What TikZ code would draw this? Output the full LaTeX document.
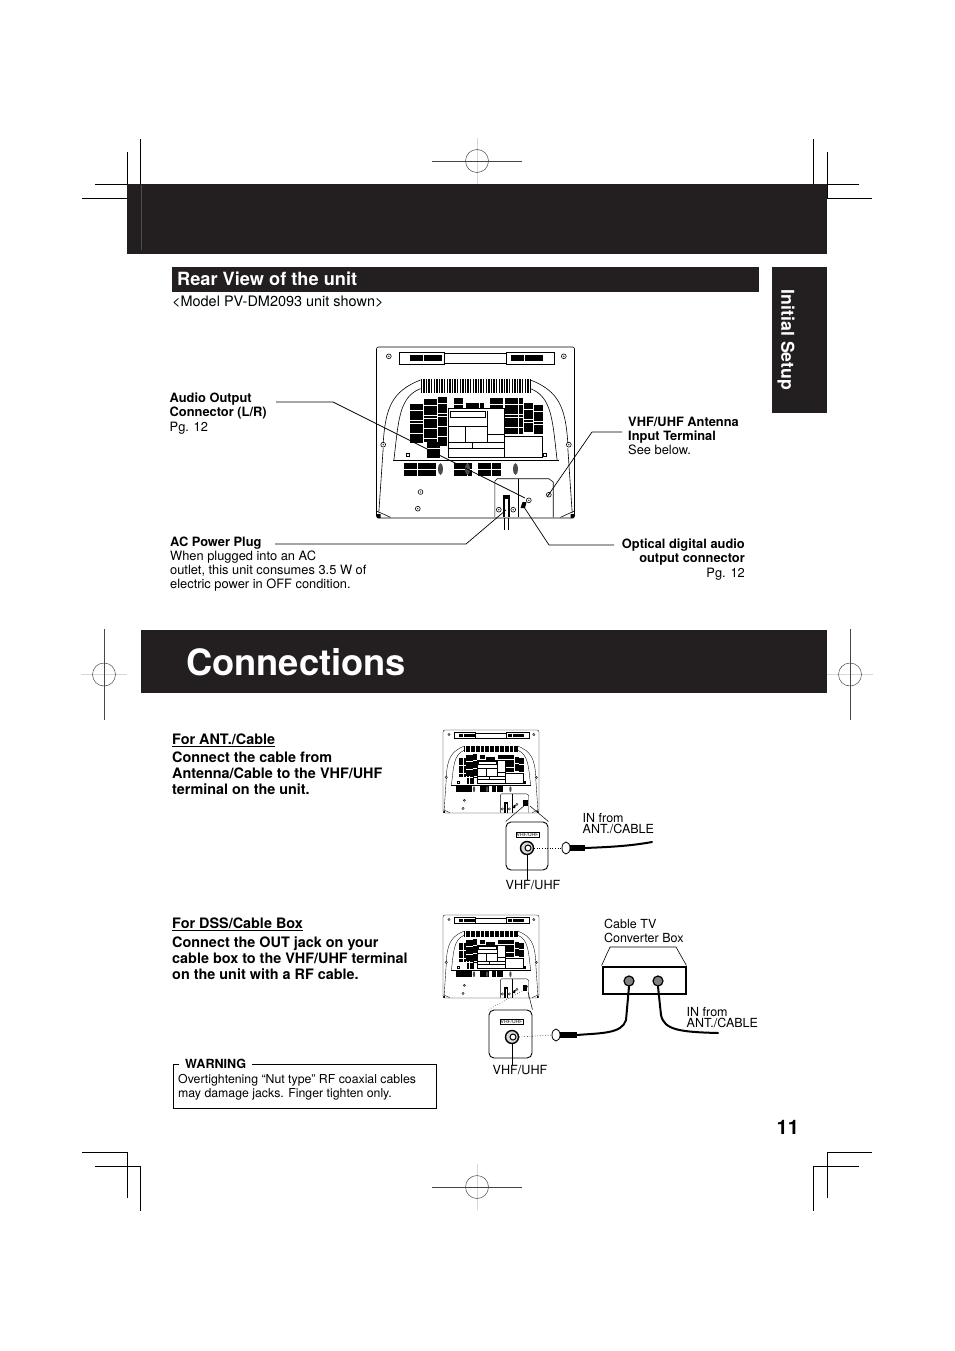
\documentclass[tikz,border=0pt]{standalone}
\usepackage{fontspec}
\setmainfont{TeX Gyre Heros}
\usetikzlibrary{positioning, calc, shapes.geometric}
\definecolor{bandblack}{RGB}{35, 31, 32}
\definecolor{regline}{RGB}{70, 70, 70}
\definecolor{regfaint}{RGB}{215, 215, 215}
\newcommand{\ventblock}[4]{%
    \foreach \ventc in {1,...,#3}
        \foreach \ventr in {1,...,#4}
            \fill ({#1+4.7*(\ventc-1)},{#2+3.3*(\ventr-1)}) rectangle ++(4.5,2.9);
}
\tikzset{
    rearline/.style={line width=0.6pt},
    cropline/.style={line width=0.9pt, black},
    leader/.style={line width=0.7pt, black},
    cable/.style={line width=2pt, black, line cap=round},
    bandtext/.style={white, font=\bfseries, inner sep=0pt},
    bodybold/.style={font=\fontsize{14.4}{16}\selectfont\bfseries, align=left, inner sep=0pt},
    smalllabel/.style={font=\fontsize{12.85}{14.2}\selectfont, inner sep=0pt},
    insetbox/.style={line width=0.9pt, rounded corners=5pt},
    jacklabel/.style={draw, line width=0.4pt, font=\fontsize{5}{5}\selectfont, inner sep=0.6pt, fill=white},
    pics/rearview/.style={code={
        % case
        \draw[rearline, rounded corners=2pt] (0,0) rectangle (198,171);
        \draw[rearline] (22.3,5) rectangle (67.3,17);
        \draw[rearline] (130,5) rectangle (177.3,17);
        \draw[rearline] (67.3,6) -- (130,6) (67.3,16) -- (130,16);
        \ventblock{33}{8}{7}{2}
        \ventblock{134}{8}{7}{2}
        % upper vents
        \foreach \ventx in {44,46.6,...,154}
            \fill (\ventx,32) rectangle ++(1.5,14);
        \draw[rearline] (6.7,96) .. controls (9,60) and (16,44) .. (44,33);
        \draw[rearline] (191.3,96) .. controls (189,60) and (182,44) .. (154,33);
        \draw[rearline] (17.3,113.7) .. controls (22,75) and (22,50) .. (44,41.7);
        \draw[rearline] (180.7,113.7) .. controls (176,75) and (176,50) .. (154,41.7);
        \draw[rearline] (6.7,101) -- (2.3,166);
        \draw[rearline] (191.3,101) -- (195.7,166);
        \draw[rearline] (16.7,113.7) -- (182,113.7);
        % vent blocks
        \ventblock{33}{57}{3}{12}
        \ventblock{47}{52}{3}{13}
        \ventblock{50}{95}{3}{5}
        \ventblock{61}{50}{2}{15}
        \ventblock{77}{51}{2}{3}
        \ventblock{89}{56}{4}{2}
        \ventblock{113}{51}{3}{3}
        \ventblock{128}{51}{4}{11}
        \ventblock{147.5}{56}{2}{9}
        \ventblock{157}{58}{2}{9}
        % middle panel
        \draw[rearline] (71.3,61.7) rectangle (127.3,110.3);
        \draw[rearline] (127.3,89.3) rectangle (165.7,110.3);
        \draw[rearline] (71.3,79.3) -- (110.7,79.3) (71.3,95) -- (127.3,95) (71.3,101) -- (127.3,101);
        \draw[rearline] (89,79.3) -- (89,95) (110.7,64) -- (110.7,95) (95.7,95) -- (95.7,101);
        \draw[line width=0.9pt] (110.7,87.7) -- (127.3,87.7);
        \draw[rearline] (73.3,64.3) rectangle (109,70.3);
        \draw[rearline] (30,106) rectangle ++(3,3.4) (167,106) rectangle ++(3,3.4);
        % jack row
        \ventblock{27}{116}{7}{4}
        \ventblock{77}{116}{4}{4}
        \ventblock{101}{116}{5}{4}
        \foreach \ventx in {64,91,139}
            \fill[black!70] (\ventx,122) ellipse (2.4 and 6);
        % lower panel
        \draw[rearline] (118.3,170.3) -- (118.3,134.3) -- (120.7,131.7) -- (172.3,131.7)
            -- (176.7,135) -- (176.7,170.3);
        \draw[rearline] (141.7,131.7) -- (141.7,170.3);
        \fill (126.7,148.3) rectangle (133.3,170.3);
        \fill[white] (128.9,152) rectangle (131.1,170.3);
        \draw[rearline] (0.7,164.3) -- (14,170.3) (197.3,164.3) -- (184,170.3);
        \fill (0.7,167) rectangle (4,171) (194,167) rectangle (197.3,171);
        \fill (146,155) -- (150,155) -- (148.5,161) -- (144,161) -- cycle;
        % screws
        \foreach \scx/\scy in {12.3/9.3, 187.3/9.3, 6.7/97.7, 192.3/97.7, 44/145, 41.3/161.7, 122.3/162.7, 136.7/162.7, 152.3/153.3, 172.3/147.7} {
            \draw[rearline] (\scx,\scy) circle (2.4);
            \fill (\scx,\scy) circle (0.7);
        }
    }}
}
\begin{document}
\begin{tikzpicture}[x=1pt, y=-1pt]
    \useasboundingbox (0,0) rectangle (954,1351);

    % crop marks
    \draw[cropline] (95,184) -- (140.5,184) -- (140.5,139);
    \draw[cropline] (82,198) -- (127,198) -- (127,152);
    \draw[cropline] (859,184) -- (813,184) -- (813,139);
    \draw[cropline] (872,198) -- (827,198) -- (827,152);
    \draw[cropline] (82,1152) -- (127,1152) -- (127,1198);
    \draw[cropline] (95,1166) -- (140.5,1166) -- (140.5,1211);
    \draw[cropline] (872,1152) -- (827,1152) -- (827,1198);
    \draw[cropline] (859,1166) -- (813,1166) -- (813,1211);

    % register marks
    \foreach \regx/\regy in {477/161, 477/1187} {
        \draw[regfaint, line width=1pt] (\regx,\regy-23) -- (\regx,\regy+23);
        \draw[regline, line width=0.6pt] (\regx-45,\regy) -- (\regx+45,\regy);
        \draw[regline, line width=0.5pt] (\regx,\regy) circle (11.5);
    }
    \foreach \regx/\regy in {104/674.5, 850/674.5} {
        \draw[regfaint, line width=1pt] (\regx-23,\regy) -- (\regx+23,\regy);
        \draw[regline, line width=0.6pt] (\regx,\regy-45.5) -- (\regx,\regy+45.5);
        \draw[regline, line width=0.5pt] (\regx,\regy) circle (11.5);
    }

    % bands
    \fill[bandblack] (127,184) rectangle (827,254);
    \draw[black!70, line width=0.5pt] (141,185) -- (141,250);
    \fill[bandblack] (172,267) rectangle (759,292);
    \fill[bandblack] (772,267) rectangle (827,413);
    \fill[bandblack] (141,630) rectangle (827,693);

    \node[bandtext, anchor=base west, font=\fontsize{18.2}{20}\selectfont\bfseries] (reartitle) at (177,285) {Rear View of the unit};
    \node[bandtext, anchor=center, rotate=-90, font=\fontsize{17.7}{20}\selectfont\bfseries] (sidetab) at (786,340) {Initial Setup};
    \node[bandtext, anchor=base west, font=\fontsize{36.3}{40}\selectfont\bfseries] (conntitle) at (186,675) {Connections};
    \node[anchor=base west, inner sep=0pt, font=\fontsize{14.45}{16}\selectfont] (model) at (172,306) {<Model PV-DM2093 unit shown>};
    \node[anchor=base west, inner sep=0pt, font=\fontsize{20}{22}\selectfont\bfseries] (pagenum) at (776.5,1134) {11};

    % rear view
    \pic at (376.5,347) {rearview};
    \draw[line width=0.6pt] (504,518) -- (504,530) (508.3,518) -- (508.3,530);

    \node[smalllabel, anchor=north west, align=left] (audio) at (169.5,393) {\textbf{Audio Output}\\\textbf{Connector (L/R)}\\Pg. 12};
    \node[smalllabel, anchor=north west, align=left] (antenna) at (628,417) {\textbf{VHF/UHF Antenna}\\\textbf{Input Terminal}\\See below.};
    \node[smalllabel, anchor=north west, align=left, font=\fontsize{12.85}{13.8}\selectfont] (acplug) at (170,537) {\textbf{AC Power Plug}\\When plugged into an AC\\outlet, this unit consumes 3.5 W of\\electric power in OFF condition.};
    \node[smalllabel, anchor=north east, align=right] (optical) at (745,539) {\textbf{Optical digital audio}\\\textbf{output connector}\\Pg. 12};

    \coordinate (audiostart) at (276,402);
    \coordinate (audiobend) at (333,402);
    \coordinate (audiotip) at (525,498);
    \coordinate (antstart) at (622,432);
    \coordinate (antbend) at (592,432);
    \coordinate (anttip) at (547,497);
    \coordinate (acstart) at (275,544);
    \coordinate (acbend) at (466,544);
    \coordinate (actip) at (506,510);
    \coordinate (optstart) at (614,545);
    \coordinate (optbend) at (549,545);
    \coordinate (opttip) at (522,504);
    \draw[leader] (audiostart) -- (audiobend) -- (audiotip);
    \draw[leader] (antstart) -- (antbend) -- (anttip);
    \draw[leader] (acstart) -- (acbend) -- (actip);
    \draw[leader] (optstart) -- (optbend) -- (opttip);

    % for ant./cable
    \node[bodybold, anchor=north west] (anthead) at (172,734) {\underline{For ANT./Cable}};
    \node[bodybold, anchor=north west] (antbody) at (172,752) {Connect the cable from\\Antenna/Cable to the VHF/UHF\\terminal on the unit.};
    \pic[transform shape, scale=0.485, rearline/.style={line width=0.35pt}] at (443,730) {rearview};
    \fill (523,800) rectangle (527.5,806);
    \coordinate (termone) at (525,805);
    \coordinate (termtwo) at (530,806);
    \node[draw, insetbox, minimum width=42pt, minimum height=48pt, inner sep=0pt] (insetone) at (527,846) {};
    \draw[line width=0.5pt] (termone) -- (insetone.north west);
    \draw[line width=0.5pt] (termtwo) -- (insetone.north east);
    \node[jacklabel] (labelone) at (527.5,834.5) {VHF/UHF};
    \node[circle, draw, line width=1.4pt, fill=black!15, minimum size=13pt, inner sep=0pt] (jackone) at (527,848) {};
    \node[circle, draw, line width=1pt, fill=white, minimum size=6pt, inner sep=0pt] (jackonein) at (528,848) {};
    \node[smalllabel, anchor=north, font=\fontsize{12.6}{14}\selectfont] (vhfone) at (533,880) {VHF/UHF};
    \draw[line width=0.7pt] (jackone.south) -- (vhfone.north -| jackone);
    \node[smalllabel, anchor=north west, font=\fontsize{12.5}{11}\selectfont, align=left] (inone) at (582.5,813) {IN from\\ANT./CABLE};
    \node[ellipse, draw, line width=0.8pt, minimum width=8pt, minimum height=12pt, inner sep=0pt] (plugone) at (566,848) {};
    \draw[line width=0.6pt, dotted] (jackone.east) -- (plugone.west);
    \fill (570,845) rectangle (585,851);
    \draw[cable] (585,848) .. controls (610,847) and (630,846) .. (652,842);

    % for dss/cable box
    \node[bodybold, anchor=north west] (dsshead) at (172,918) {\underline{For DSS/Cable Box}};
    \node[bodybold, anchor=north west] (dssbody) at (172,937) {Connect the OUT jack on your\\cable box to the VHF/UHF terminal\\on the unit with a RF cable.};
    \pic[transform shape, scale=0.485, rearline/.style={line width=0.35pt}] at (443,915) {rearview};
    \fill (522.5,985) rectangle (527,991);
    \coordinate (termthree) at (522,991);
    \coordinate (termfour) at (528,992);
    \node[draw, insetbox, minimum width=43pt, minimum height=48pt, inner sep=0pt] (insettwo) at (510.5,1034) {};
    \draw[line width=0.5pt, dotted] (termthree) -- (insettwo.north west);
    \draw[line width=0.5pt] (termfour) -- (insettwo.north east);
    \node[jacklabel] (labeltwo) at (511.5,1022) {VHF/UHF};
    \node[circle, draw, line width=1.4pt, fill=black!15, minimum size=13pt, inner sep=0pt] (jacktwo) at (512,1037) {};
    \node[circle, draw, line width=1pt, fill=white, minimum size=6pt, inner sep=0pt] (jacktwoin) at (513,1037) {};
    \node[smalllabel, anchor=north, font=\fontsize{12.6}{14}\selectfont] (vhftwo) at (520,1065) {VHF/UHF};
    \draw[line width=0.7pt] (jacktwo.south) -- (vhftwo.north -| jacktwo);
    \node[ellipse, draw, line width=0.8pt, minimum width=8pt, minimum height=12pt, inner sep=0pt] (plugtwo) at (556,1035) {};
    \draw[line width=0.6pt, dotted] (jacktwo.east) -- (plugtwo.west);
    \fill (560,1032) rectangle (577,1038);

    \node[smalllabel, anchor=north west, align=left, font=\fontsize{12.5}{14}\selectfont] (boxlabel) at (604,919) {Cable TV\\Converter Box};
    \node[draw, line width=0.9pt, minimum width=84pt, minimum height=28pt, inner sep=0pt] (convbox) at (644,980) {};
    \draw[line width=0.5pt] (603,967) rectangle (685,993);
    \draw[line width=0.6pt] (convbox.north west) -- (610,947) -- (676,947) -- (convbox.north east);
    \node[circle, draw, line width=1.2pt, fill=black!50, minimum size=10pt, inner sep=0pt] (outjack) at (629,981) {};
    \node[circle, draw, line width=1.2pt, fill=black!50, minimum size=10pt, inner sep=0pt] (injack) at (658,981) {};
    \draw[cable] (577,1035) .. controls (600,1033) and (622,1034) .. (626,1020) -- (outjack.south);
    \draw[cable] (injack.south) -- (661,1015) .. controls (664,1030) and (680,1032) .. (718,1033);
    \node[smalllabel, anchor=north west, font=\fontsize{12.5}{11}\selectfont, align=left] (intwo) at (686.5,1007) {IN from\\ANT./CABLE};

    % warning
    \draw[line width=1pt] (179,1064) -- (173,1064) -- (173,1108) -- (436,1108) -- (436,1064) -- (252,1064);
    \node[anchor=base west, inner sep=0pt, font=\fontsize{12.6}{14}\selectfont\bfseries] (warning) at (185,1068) {WARNING};
    \node[smalllabel, anchor=north west, align=left, font=\fontsize{12.3}{14}\selectfont] (warntext) at (178,1074) {Overtightening “Nut type” RF coaxial cables\\may damage jacks. Finger tighten only.};
\end{tikzpicture}
\end{document}
